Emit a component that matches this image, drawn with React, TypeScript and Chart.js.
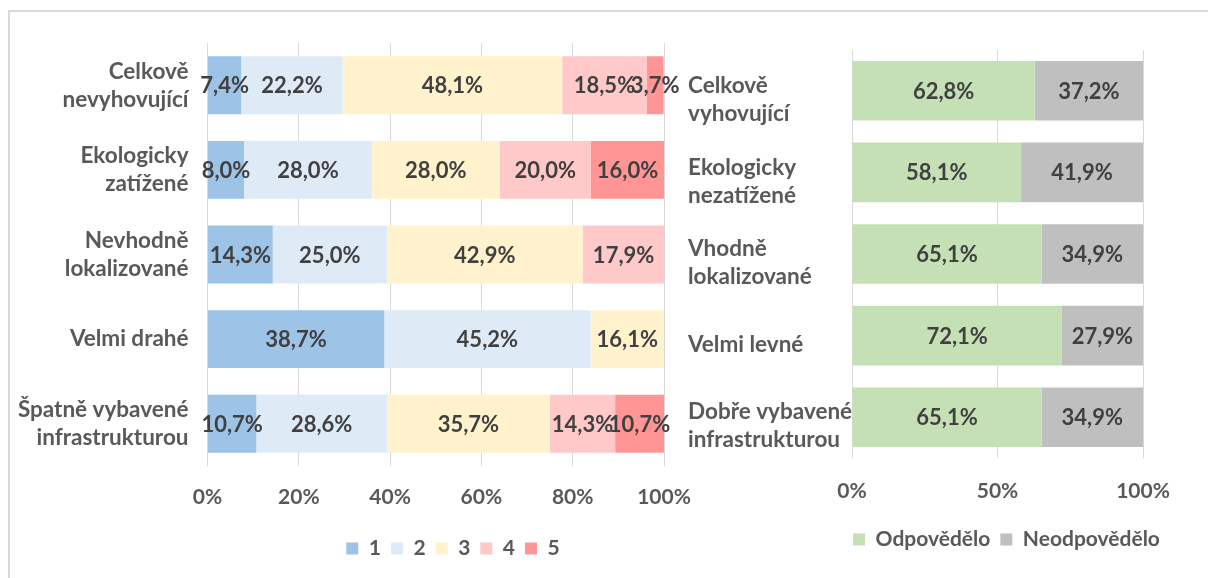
import React, { useEffect, useRef } from "react";
import { Chart, registerables } from "chart.js";

Chart.register(...registerables);

// ---------- data ----------
const leftCategories = [
  ["Celkově", "nevyhovující"],
  ["Ekologicky", "zatížené"],
  ["Nevhodně", "lokalizované"],
  ["Velmi drahé"],
  ["Špatně vybavené", "infrastrukturou"],
];
const leftSeriesNames = ["1", "2", "3", "4", "5"];
const rating1 = [7.4, 8.0, 14.3, 38.7, 10.7];
const rating2 = [22.2, 28.0, 25.0, 45.2, 28.6];
const rating3 = [48.1, 28.0, 42.9, 16.1, 35.7];
const rating4 = [18.5, 20.0, 17.9, null, 14.3];
const rating5 = [3.7, 16.0, null, null, 10.7];
const leftTickStep = 20;

const rightCategories = [
  ["Celkově", "vyhovující"],
  ["Ekologicky", "nezatížené"],
  ["Vhodně", "lokalizované"],
  ["Velmi levné"],
  ["Dobře vybavené", "infrastrukturou"],
];
const rightSeriesNames = ["Odpovědělo", "Neodpovědělo"];
const answered = [62.8, 58.1, 65.1, 72.1, 65.1];
const notAnswered = [37.2, 41.9, 34.9, 27.9, 34.9];
const rightTickStep = 50;

// ---------- styles ----------
const FONT = "Lato";
const leftColors = ["#9DC3E6", "#DEEBF7", "#FFF2CC", "#FFC9C9", "#FF9595"];
const rightColors = ["#C5E0B4", "#BFBFBF"];
const TEXT_GRAY = "#595959";
const VALUE_GRAY = "#404040";
const GRID = "#D9D9D9";
const CAT_SIZE = 22.5;
const VALUE_SIZE = 22;
const TICK_SIZE = 21;
const LEGEND_SIZE = 21;

const fmt = (v: number) => v.toFixed(1).replace(".", ",") + "%";

const valueLabels = {
  id: "valueLabels",
  afterDatasetsDraw(chart: any) {
    const ctx = chart.ctx;
    ctx.save();
    ctx.font = `bold ${VALUE_SIZE}px ${FONT}`;
    ctx.fillStyle = VALUE_GRAY;
    ctx.textAlign = "center";
    ctx.textBaseline = "middle";
    chart.data.datasets.forEach((ds: any, i: number) => {
      const meta = chart.getDatasetMeta(i);
      meta.data.forEach((el: any, j: number) => {
        const v = ds.data[j];
        if (v == null || v === 0) return;
        const { x, y, base } = el.getProps(["x", "y", "base"], true);
        ctx.fillText(fmt(v), (x + base) / 2, y + 1);
      });
    });
    ctx.restore();
  },
};

const legendCenter = (cx: number) => ({
  id: "legendCenter",
  afterLayout(chart: any) {
    const l = chart.legend;
    if (!l) return;
    const dx = cx - (l.left + l.right) / 2;
    l.left += dx;
    l.right += dx;
  },
});

function makeOptions(opts: {
  yWidth: number;
  yPadding: number;
  crossAlign: "near" | "far";
  labelOffset: number;
  xHeight: number;
  xPadding: number;
  step: number;
  padding: any;
}) {
  return {
    indexAxis: "y" as const,
    responsive: false,
    animation: false as const,
    devicePixelRatio: 1,
    layout: { padding: opts.padding },
    plugins: {
      tooltip: { enabled: false },
      legend: {
        position: "bottom" as const,
        labels: {
          boxWidth: 12,
          boxHeight: 12,
          padding: 10,
          color: TEXT_GRAY,
          font: { family: FONT, size: LEGEND_SIZE, weight: "bold" as const },
        },
      },
    },
    scales: {
      x: {
        stacked: true,
        min: 0,
        max: 100,
        border: { display: false },
        grid: { color: GRID, lineWidth: 1, drawTicks: false },
        ticks: {
          stepSize: opts.step,
          padding: opts.xPadding,
          color: TEXT_GRAY,
          font: { family: FONT, size: TICK_SIZE, weight: "bold" as const },
          callback: (v: any) => v + "%",
        },
        afterFit: (s: any) => {
          s.height = opts.xHeight;
        },
      },
      y: {
        stacked: true,
        border: { display: false },
        grid: { display: false, drawTicks: false },
        ticks: {
          padding: opts.yPadding,
          crossAlign: opts.crossAlign,
          labelOffset: opts.labelOffset,
          color: TEXT_GRAY,
          font: { family: FONT, size: CAT_SIZE, weight: "bold" as const, lineHeight: "28px" },
        },
        afterFit: (s: any) => {
          s.width = opts.yWidth;
          s.paddingTop = 0;
          s.paddingBottom = 0;
        },
      },
    },
  };
}

export default function App() {
  const leftRef = useRef<HTMLCanvasElement>(null);
  const rightRef = useRef<HTMLCanvasElement>(null);

  useEffect(() => {
    const leftSeries = [rating1, rating2, rating3, rating4, rating5];
    const c1 = new Chart(leftRef.current as HTMLCanvasElement, {
      type: "bar",
      data: {
        labels: leftCategories as any,
        datasets: leftSeries.map((d, i) => ({
          label: leftSeriesNames[i],
          data: d as any,
          backgroundColor: leftColors[i],
          borderWidth: 0,
          barPercentage: 0.684,
          categoryPercentage: 1,
        })),
      },
      options: makeOptions({
        yWidth: 207.5,
        yPadding: 19,
        crossAlign: "near",
        labelOffset: 0,
        xHeight: 62,
        xPadding: 19,
        step: leftTickStep,
        padding: { top: 43, left: 0, right: 56, bottom: 9 },
      }) as any,
      plugins: [valueLabels, legendCenter(453)],
    });

    const rightSeries = [answered, notAnswered];
    const c2 = new Chart(rightRef.current as HTMLCanvasElement, {
      type: "bar",
      data: {
        labels: rightCategories as any,
        datasets: rightSeries.map((d, i) => ({
          label: rightSeriesNames[i],
          data: d,
          backgroundColor: rightColors[i],
          borderWidth: 0,
          barPercentage: 0.73,
          categoryPercentage: 1,
        })),
      },
      options: makeOptions({
        yWidth: 164,
        yPadding: 8,
        crossAlign: "far",
        labelOffset: 9,
        xHeight: 61,
        xPadding: 21,
        step: rightTickStep,
        padding: { top: 50, left: 28, right: 65, bottom: 18 },
      }) as any,
      plugins: [valueLabels, legendCenter(346.5)],
    });

    return () => {
      c1.destroy();
      c2.destroy();
    };
  }, []);

  return (
    <div style={{ position: "absolute", left: 0, top: 0, width: 1208, height: 578, overflow: "hidden", background: "#fff" }}>
      <div
        style={{
          position: "absolute",
          left: 8,
          top: 10,
          width: 1200,
          height: 568,
          borderTop: `2px solid ${GRID}`,
          borderLeft: `2px solid ${GRID}`,
          boxSizing: "border-box",
        }}
      />
      <div style={{ position: "absolute", left: 0, top: 0 }}>
        <canvas ref={leftRef} width={720} height={578} style={{ display: "block", width: 720, height: 578 }} />
      </div>
      <div style={{ position: "absolute", left: 660, top: 0 }}>
        <canvas ref={rightRef} width={548} height={578} style={{ display: "block", width: 548, height: 578 }} />
      </div>
    </div>
  );
}
